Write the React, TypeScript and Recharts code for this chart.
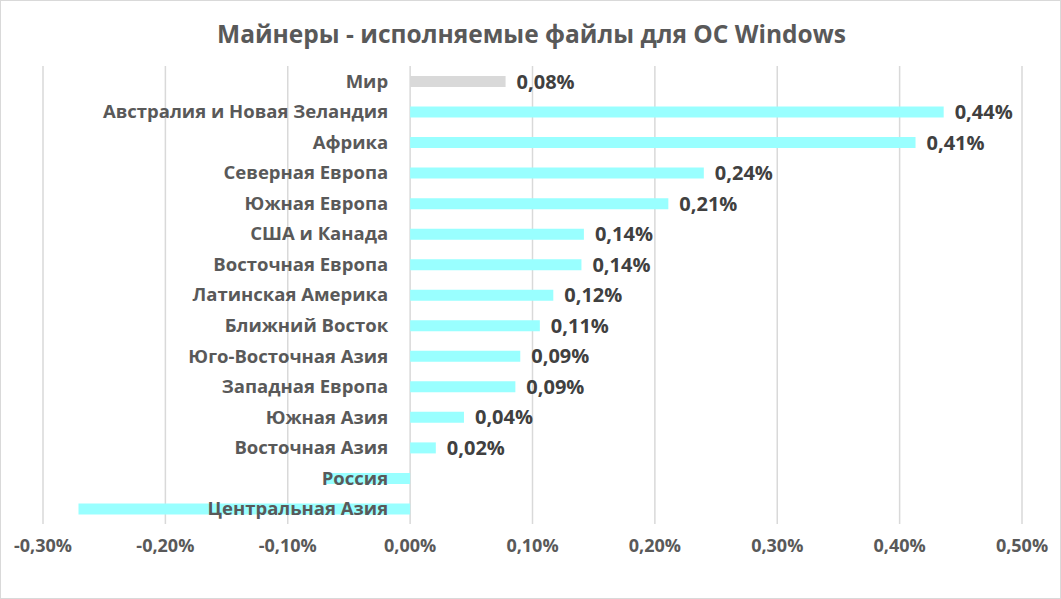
import { BarChart, Bar, XAxis, YAxis, CartesianGrid, Cell, LabelList } from 'recharts';

// Регионы сверху вниз, как на картинке
const regions = [
  'Мир',
  'Австралия и Новая Зеландия',
  'Африка',
  'Северная Европа',
  'Южная Европа',
  'США и Канада',
  'Восточная Европа',
  'Латинская Америка',
  'Ближний Восток',
  'Юго-Восточная Азия',
  'Западная Европа',
  'Южная Азия',
  'Восточная Азия',
  'Россия',
  'Центральная Азия',
];

// доля, в процентах
const shares = [
  0.078, 0.436, 0.413, 0.240, 0.211, 0.142, 0.140, 0.117, 0.106, 0.090, 0.086, 0.044, 0.021, -0.069, -0.271,
];

const xTicks = [-0.3, -0.2, -0.1, 0, 0.1, 0.2, 0.3, 0.4, 0.5];

const W = 1061;
const H = 599;
const M = { top: 66, right: 39, bottom: 35, left: 42 };
const YW = 1;
const DOMAIN: [number, number] = [-0.3, 0.5];
const FONT = '"Open Sans", "Noto Sans", sans-serif';

const fmt = (v: number) => `${v.toFixed(2).replace('.', ',')}%`;

// позиция нуля по оси X — туда прижимаются подписи категорий
const plotLeft = M.left + YW;
const zeroX = plotLeft + ((0 - DOMAIN[0]) / (DOMAIN[1] - DOMAIN[0])) * (W - plotLeft - M.right);

const data = regions.map((name, i) => ({ name, value: shares[i] }));

const renderCategoryTick = (props: any) => {
  const { y, payload } = props;
  return (
    <text
      key={payload.value}
      x={zeroX - 22}
      y={y}
      dy="0.35em"
      textAnchor="end"
      fill="#595959"
      fontSize={18.5}
      fontWeight={700}
      fontFamily={FONT}
    >
      {payload.value}
    </text>
  );
};

export default function App() {
  return (
    <div
      style={{
        position: 'absolute',
        left: 0,
        top: 0,
        width: W,
        height: H,
        background: '#fff',
        border: '1px solid #d9d9d9',
        boxSizing: 'border-box',
      }}
    >
      <div
        style={{
          position: 'absolute',
          left: 0,
          top: 16,
          width: W,
          textAlign: 'center',
          fontFamily: FONT,
          fontWeight: 700,
          fontSize: 24.5,
          color: '#595959',
        }}
      >
        Майнеры - исполняемые файлы для ОС Windows
      </div>
      <div style={{ position: 'absolute', left: -1, top: -1 }}>
        <BarChart width={W} height={H} data={data} layout="vertical" margin={M}>
          <CartesianGrid horizontal={false} stroke="#d9d9d9" strokeWidth={1.5} />
          <XAxis
            type="number"
            domain={DOMAIN}
            ticks={xTicks}
            tickFormatter={fmt}
            axisLine={false}
            tickLine={false}
            height={40}
            tickMargin={9}
            tick={{ fill: '#595959', fontSize: 18, fontWeight: 700, fontFamily: FONT }}
            allowDataOverflow
          />
          <Bar dataKey="value" barSize={11} isAnimationActive={false}>
            {data.map((d, i) => (
              <Cell key={d.name} fill={i === 0 ? '#d9d9d9' : '#99ffff'} />
            ))}
            <LabelList
              dataKey="value"
              position="right"
              offset={11}
              formatter={(v: any) => (v > 0 ? fmt(v) : '')}
              fill="#404040"
              fontSize={20}
              fontWeight={700}
              fontFamily={FONT}
            />
          </Bar>
          <YAxis
            type="category"
            dataKey="name"
            width={YW}
            axisLine={false}
            tickLine={false}
            interval={0}
            tick={renderCategoryTick}
          />
        </BarChart>
      </div>
    </div>
  );
}
